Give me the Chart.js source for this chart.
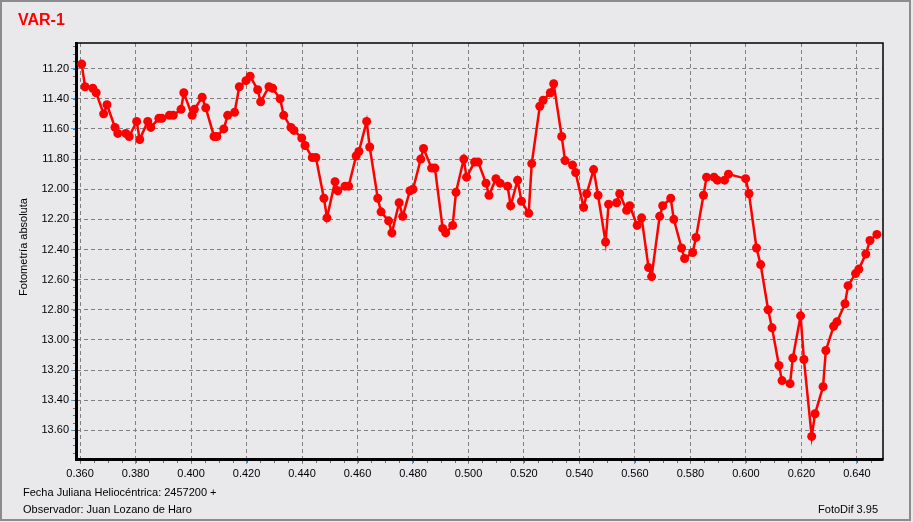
<!DOCTYPE html>
<html>
<head>
<meta charset="utf-8">
<script src="https://cdn.jsdelivr.net/npm/chart.js@4"></script>
<style>
  html, body { margin: 0; padding: 0; background: #e9e9eb; }
  #wrap { position: relative; width: 913px; height: 522px; }
</style>
</head>
<body>
<div id="wrap"><canvas id="c" width="913" height="522"></canvas></div>
<script>
// Fecha Juliana Heliocéntrica (- 2457200)
const jd = [
  0.3606, 0.3618, 0.3646, 0.3658, 0.3685, 0.3697, 0.3726, 0.3736, 0.3765, 0.3777,
  0.3804, 0.3815, 0.3844, 0.3855, 0.3884, 0.3895, 0.3922, 0.3936, 0.3964, 0.3974,
  0.4004, 0.4012, 0.4040, 0.4053, 0.4083, 0.4093, 0.4118, 0.4132, 0.4157, 0.4174,
  0.4198, 0.4213, 0.4240, 0.4251, 0.4281, 0.4294, 0.4321, 0.4334, 0.4360, 0.4371,
  0.4399, 0.4411, 0.4437, 0.4450, 0.4479, 0.4490, 0.4519, 0.4529, 0.4555, 0.4568,
  0.4595, 0.4605, 0.4633, 0.4644, 0.4673, 0.4685, 0.4712, 0.4724, 0.4750, 0.4763,
  0.4789, 0.4800, 0.4828, 0.4838, 0.4867, 0.4879, 0.4907, 0.4918, 0.4943, 0.4955,
  0.4983, 0.4993, 0.5022, 0.5035, 0.5063, 0.5074, 0.5099, 0.5114, 0.5141, 0.5152,
  0.5177, 0.5191, 0.5217, 0.5228, 0.5257, 0.5269, 0.5295, 0.5307, 0.5336, 0.5348,
  0.5375, 0.5386, 0.5415, 0.5426, 0.5451, 0.5467, 0.5494, 0.5505, 0.5534, 0.5545,
  0.5570, 0.5581, 0.5608, 0.5624, 0.5649, 0.5660, 0.5689, 0.5700, 0.5729, 0.5740,
  0.5768, 0.5779, 0.5808, 0.5820, 0.5847, 0.5858, 0.5885, 0.5897, 0.5923, 0.5937,
  0.5999, 0.6011, 0.6038, 0.6053, 0.6080, 0.6094, 0.6119, 0.6130, 0.6159, 0.6169,
  0.6197, 0.6209, 0.6237, 0.6249, 0.6278, 0.6288, 0.6316, 0.6328, 0.6357, 0.6368,
  0.6395, 0.6407, 0.6432, 0.6447, 0.6472
];

// Fotometría absoluta (magnitud)
const mag = [
  11.17, 11.32, 11.33, 11.36, 11.50, 11.44, 11.59, 11.63, 11.63, 11.65,
  11.55, 11.67, 11.55, 11.59, 11.53, 11.53, 11.51, 11.51, 11.47, 11.36,
  11.51, 11.47, 11.39, 11.46, 11.65, 11.65, 11.60, 11.51, 11.49, 11.32,
  11.28, 11.25, 11.34, 11.42, 11.32, 11.33, 11.40, 11.51, 11.59, 11.61,
  11.66, 11.71, 11.79, 11.79, 12.06, 12.19, 11.95, 12.01, 11.98, 11.98,
  11.78, 11.75, 11.55, 11.72, 12.06, 12.15, 12.21, 12.29, 12.09, 12.18,
  12.01, 12.00, 11.80, 11.73, 11.86, 11.86, 12.26, 12.29, 12.24, 12.02,
  11.80, 11.92, 11.82, 11.82, 11.96, 12.04, 11.93, 11.96, 11.98, 12.11,
  11.94, 12.08, 12.16, 11.83, 11.45, 11.41, 11.36, 11.30, 11.65, 11.81,
  11.84, 11.89, 12.12, 12.03, 11.87, 12.04, 12.35, 12.10, 12.09, 12.03,
  12.14, 12.11, 12.24, 12.19, 12.52, 12.58, 12.18, 12.11, 12.06, 12.20,
  12.39, 12.46, 12.42, 12.32, 12.04, 11.92, 11.92, 11.94, 11.94, 11.90,
  11.93, 12.03, 12.39, 12.50, 12.80, 12.92, 13.17, 13.27, 13.29, 13.12,
  12.84, 13.13, 13.64, 13.49, 13.31, 13.07, 12.91, 12.88, 12.76, 12.64,
  12.56, 12.53, 12.43, 12.34, 12.30
];

const xMin = 0.3589, xMax = 0.6494;
const yMin = 11.03, yMax = 13.79;

const FONT = '"Liberation Sans", Arial, sans-serif';

// marco, ticks menores y textos
const decor = {
  id: 'decor',
  beforeDraw(chart) {
    const ctx = chart.ctx;
    ctx.save();
    ctx.fillStyle = '#e9e9eb';
    ctx.fillRect(0, 0, chart.width, chart.height);
    // borde de la ventana
    ctx.strokeStyle = '#8c8c8c';
    ctx.lineWidth = 2;
    ctx.strokeRect(1, 1, 909, 519);
    ctx.restore();
  },
  beforeDatasetsDraw(chart) {
    const ctx = chart.ctx;
    const a = chart.chartArea;
    const xs = chart.scales.x, ys = chart.scales.y;
    ctx.save();
    // ticks menores
    ctx.strokeStyle = '#707070';
    ctx.lineWidth = 1;
    ctx.beginPath();
    for (let v = 11.05; v < yMax; v += 0.05) {
      const y = Math.round(ys.getPixelForValue(v)) + 0.5;
      ctx.moveTo(a.left - 4, y);
      ctx.lineTo(a.left, y);
    }
    for (let v = 0.360; v < xMax; v += 0.005) {
      const x = Math.round(xs.getPixelForValue(v)) + 0.5;
      ctx.moveTo(x, a.bottom);
      ctx.lineTo(x, a.bottom + 4);
    }
    ctx.stroke();
    // marco del gráfico
    ctx.strokeStyle = '#000';
    ctx.lineWidth = 1.5;
    ctx.strokeRect(a.left, a.top, a.right - a.left, a.bottom - a.top);
    ctx.lineWidth = 3;
    ctx.beginPath();
    ctx.moveTo(a.left - 0.5, a.top - 1);
    ctx.lineTo(a.left - 0.5, a.bottom + 0.5);
    ctx.lineTo(a.right + 0.5, a.bottom + 0.5);
    ctx.stroke();
    ctx.restore();
  },
  afterDraw(chart) {
    const ctx = chart.ctx;
    ctx.save();
    ctx.fillStyle = '#ff0000';
    ctx.font = 'bold 16px ' + FONT;
    ctx.textBaseline = 'alphabetic';
    ctx.fillText('VAR-1', 18, 25);

    ctx.fillStyle = '#000';
    ctx.font = '11px ' + FONT;
    ctx.textBaseline = 'middle';
    ctx.fillText('Fecha Juliana Heliocéntrica: 2457200 +', 23, 493);
    ctx.fillText('Observador: Juan Lozano de Haro', 23, 510);
    ctx.textAlign = 'right';
    ctx.fillText('FotoDif 3.95', 878, 510);

    ctx.translate(24, 247);
    ctx.rotate(-Math.PI / 2);
    ctx.textAlign = 'center';
    ctx.fillText('Fotometría absoluta', 0, 0);
    ctx.restore();
  }
};

const points = jd.map((x, i) => ({ x: x, y: mag[i] }));

new Chart(document.getElementById('c'), {
  type: 'line',
  data: {
    datasets: [{
      data: points,
      borderColor: '#ff0000',
      backgroundColor: '#ff0000',
      borderWidth: 2.5,
      pointRadius: 4.5,
      pointBorderWidth: 0,
      pointBackgroundColor: '#ff0000',
      tension: 0,
      fill: false
    }]
  },
  options: {
    responsive: false,
    animation: false,
    events: [],
    layout: { padding: { left: 0, top: 43, right: 30, bottom: 0 } },
    plugins: {
      legend: { display: false },
      tooltip: { enabled: false }
    },
    scales: {
      x: {
        type: 'linear',
        min: xMin,
        max: xMax,
        afterFit: s => { s.height = 63; },
        border: { display: false, dash: [4, 3] },
        grid: {
          color: '#808080',
          lineWidth: 1,
          drawTicks: true,
          tickLength: 5,
          tickColor: '#4aa3df',
          tickBorderDash: []
        },
        ticks: {
          stepSize: 0.02,
          includeBounds: false,
          maxRotation: 0,
          autoSkip: false,
          padding: 3,
          color: '#000',
          font: { family: FONT, size: 11 },
          callback: v => v.toFixed(3)
        }
      },
      y: {
        type: 'linear',
        reverse: true,
        min: yMin,
        max: yMax,
        afterFit: s => { s.width = 77; },
        border: { display: false, dash: [4, 3] },
        grid: {
          color: '#808080',
          lineWidth: 1,
          drawTicks: true,
          tickLength: 6,
          tickColor: '#4aa3df',
          tickBorderDash: []
        },
        ticks: {
          stepSize: 0.2,
          includeBounds: false,
          autoSkip: false,
          padding: 2,
          color: '#000',
          font: { family: FONT, size: 11 },
          callback: v => v.toFixed(2)
        }
      }
    }
  },
  plugins: [decor]
});
</script>
</body>
</html>
